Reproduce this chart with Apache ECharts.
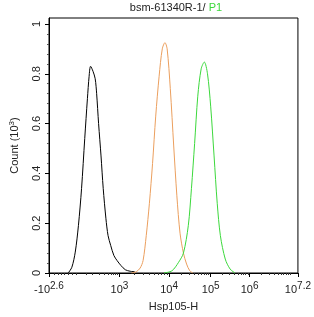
<!DOCTYPE html>
<html><head><meta charset="utf-8">
<script src="https://cdn.jsdelivr.net/npm/echarts@6/dist/echarts.min.js"></script>
<style>html,body{margin:0;padding:0;background:#fff}#c{width:314px;height:317px}</style>
</head><body><div id="c"></div>
<script>
// x values are on the instrument's 0-1024 display channel scale
const blackX = [79,94,108,121,134,147,158,165,171,181,190,196,204,214,223,234,243,254,267,280,296,314,334,353];
const blackY = [0,0.023,0.084,0.19,0.34,0.54,0.70,0.79,0.83,0.81,0.78,0.72,0.60,0.47,0.34,0.22,0.15,0.11,0.07,0.05,0.03,0.013,0.007,0.005];
const orangeX = [339,359,375,387,400,413,426,439,453,466,477,486,499,513,526,539,553,566,579,592];
const orangeY = [0,0.005,0.02,0.05,0.15,0.28,0.44,0.63,0.79,0.90,0.925,0.90,0.74,0.51,0.31,0.16,0.08,0.036,0.009,0];
const greenX = [473,506,533,553,573,586,599,612,626,639,652,665,679,692,705,725,745,765];
const greenY = [0,0.009,0.043,0.08,0.19,0.34,0.52,0.71,0.82,0.847,0.80,0.67,0.47,0.28,0.15,0.056,0.016,0];
const xTickPos = [0,290,494,665,825,1024];
const xTickLabels = ['-10{s|2.6}','10{s|3}','10{s|4}','10{s|5}','10{s|6}','10{s|7.2}'];
const xMinorPos = [20,36,51,62,80,97,113,153,179,206,226,243,255,264,272,280,
  351,387,413,433,449,462,474,485, 545,576,597,614,627,638,648,657,
  713,741,761,777,789,800,809,818, 875,904,925,941,954,965,975,983,991];
const yTickPos = [0,0.2,0.4,0.6,0.8,1];
const yTickLabels = ['0','0.2','0.4','0.6','0.8','1'];
const yMinorPos = [0.04,0.08,0.12,0.16,0.24,0.28,0.32,0.36,0.44,0.48,0.52,0.56,0.64,0.68,0.72,0.76,0.84,0.88,0.92,0.96];

const font = 'Liberation Sans, Arial, sans-serif';
const zip = (xs, ys) => xs.map((x, i) => [x, ys[i]]);
const chart = echarts.init(document.getElementById('c'), null, {renderer: 'canvas'});
const xBase = {type: 'value', min: 0, max: 1024, position: 'bottom'};
const yBase = {type: 'value', min: 0, max: 1.024, position: 'left'};
chart.setOption({
  animation: false,
  title: {
    text: '{a|bsm-61340R-1/ }{b|P1}', left: 171, top: 0, padding: [2, 5, 2, 5], textAlign: 'center',
    textStyle: {fontWeight: 'normal', rich: {
      a: {fontFamily: font, fontSize: 11, fontWeight: 'normal', color: '#222'},
      b: {fontFamily: font, fontSize: 11, fontWeight: 'normal', color: '#3cd83c'}}}
  },
  grid: {left: 43, right: 14, top: 18, bottom: 43, show: true, borderColor: '#000', borderWidth: 1},
  xAxis: [
    Object.assign({}, xBase, {
      name: 'Hsp105-H', nameLocation: 'middle', nameGap: 28,
      nameTextStyle: {fontFamily: font, fontSize: 11, color: '#222'},
      axisLine: {show: true, lineStyle: {color: '#000', width: 1}},
      axisTick: {show: true, customValues: xTickPos, length: 4, lineStyle: {color: '#000'}},
      axisLabel: {
        customValues: xTickPos, margin: 8, fontFamily: font, fontSize: 11, color: '#222',
        formatter: v => xTickLabels[xTickPos.indexOf(v)] || '',
        rich: {s: {fontSize: 10, fontFamily: font, color: '#222', verticalAlign: 'top', padding: [0,0,7,0]}}
      },
      splitLine: {show: false}
    }),
    Object.assign({}, xBase, {
      axisLine: {show: false},
      axisTick: {show: true, customValues: xMinorPos, length: 2, lineStyle: {color: '#333'}},
      axisLabel: {show: false}, splitLine: {show: false}
    })
  ],
  yAxis: [
    Object.assign({}, yBase, {
      name: 'Count {s|(10}{t|3}{s|)}', nameLocation: 'middle', nameGap: 27, nameRotate: 90,
      nameTextStyle: {fontFamily: font, fontSize: 11, color: '#222',
        rich: {s: {fontFamily: font, fontSize: 11, color: '#222'}, t: {fontFamily: font, fontSize: 8, color: '#222', verticalAlign: 'top', padding: [0,0,6,0]}}},
      axisLine: {show: true, lineStyle: {color: '#000', width: 1}},
      axisTick: {show: true, customValues: yTickPos, length: 4, lineStyle: {color: '#000'}},
      axisLabel: {customValues: yTickPos, rotate: 90, margin: 7, fontFamily: font, fontSize: 11, color: '#222',
        formatter: v => yTickLabels[yTickPos.indexOf(v)] ?? ''},
      splitLine: {show: false}
    }),
    Object.assign({}, yBase, {
      axisLine: {show: false},
      axisTick: {show: true, customValues: yMinorPos, length: 2, lineStyle: {color: '#555'}},
      axisLabel: {show: false}, splitLine: {show: false}
    })
  ],
  series: [
    {type: 'line', data: zip(blackX, blackY), smooth: 0.3, showSymbol: false, lineStyle: {color: '#000', width: 1}},
    {type: 'line', data: zip(orangeX, orangeY), smooth: 0.3, showSymbol: false, lineStyle: {color: '#eb9f5e', width: 1}},
    {type: 'line', data: zip(greenX, greenY), smooth: 0.3, showSymbol: false, lineStyle: {color: '#3cd83c', width: 1}}
  ]
});
</script></body></html>
